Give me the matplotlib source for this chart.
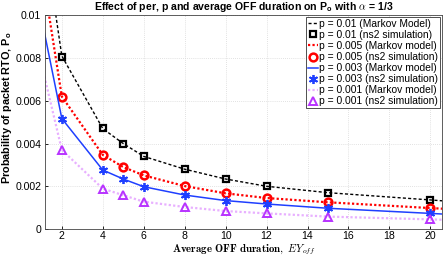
#!/usr/bin/env python3
import numpy as np
import matplotlib
matplotlib.use("Agg")
import matplotlib.pyplot as plt

# OFF durations where the ns2 simulation was run
x_sim = [2, 4, 5, 6, 8, 10, 12, 15, 20]
# model curves drawn over a slightly wider range (clipped by the axes)
x_model = [1, 2, 4, 5, 6, 8, 10, 12, 15, 20, 21]

p01_model = [0.0146, 0.0081, 0.0047, 0.0040, 0.0034, 0.0028, 0.00234, 0.0020, 0.0017, 0.00136, 0.00129]
p01_sim = [0.00807, 0.00473, 0.00398, 0.00340, 0.00280, 0.00234, 0.00200, 0.00170, 0.00136]

p005_model = [0.0123, 0.0062, 0.00347, 0.0029, 0.00251, 0.00201, 0.00167, 0.00145, 0.00125, 0.00098, 0.00093]
p005_sim = [0.0062, 0.00347, 0.0029, 0.00251, 0.00201, 0.00167, 0.00145, 0.00125, 0.00098]

p003_model = [0.0099, 0.00517, 0.00276, 0.00234, 0.00198, 0.00159, 0.00133, 0.00117, 0.00097, 0.00073, 0.00068]
p003_sim = [0.00517, 0.00276, 0.00234, 0.00198, 0.00159, 0.00133, 0.00117, 0.00097, 0.00073]

p001_model = [0.00775, 0.0037, 0.00189, 0.00158, 0.00128, 0.00103, 0.00084, 0.00073, 0.00058, 0.00045, 0.00042]
p001_sim = [0.0037, 0.00189, 0.00158, 0.00128, 0.00103, 0.00084, 0.00073, 0.00058, 0.00045]

x_ticks = [2, 4, 6, 8, 10, 12, 14, 16, 18, 20]
y_ticks = [0, 0.002, 0.004, 0.006, 0.008, 0.01]
y_ticklabels = ["0", "0.002", "0.004", "0.006", "0.008", "0.01"]

COLORS = {
    "black": "#000000",
    "red": "#ff0000",
    "blue": "#1f3fff",
    "violet": "#b833ff",
    "lilac": "#e8b0ff",
}

plt.rcParams["font.family"] = ["Liberation Sans", "DejaVu Sans"]
plt.rcParams["mathtext.fontset"] = "cm"

fig = plt.figure(figsize=(4.44, 2.57), dpi=100)
ax = fig.add_axes([0.101, 0.109, 0.8945, 0.831])

ax.plot(x_model, p01_model, color=COLORS["black"], ls=(0, (2.2, 1.6)), lw=1.0,
        label="p = 0.01 (Markov Model)")
ax.plot(x_sim, p01_sim, ls="none", marker="s", ms=4.8, mec=COLORS["black"],
        mfc="none", mew=1.6, label="p = 0.01 (ns2 simulation)")
ax.plot(x_model, p005_model, color=COLORS["red"], ls=(0, (1, 1)), lw=1.6,
        label="p = 0.005 (Markov model)")
ax.plot(x_sim, p005_sim, ls="none", marker="o", ms=5.6, mec=COLORS["red"],
        mfc="none", mew=1.8, label="p = 0.005 (ns2 simulation)")
ax.plot(x_model, p003_model, color=COLORS["blue"], ls="-", lw=1.1,
        label="p = 0.003 (Markov model)")
ax.plot(x_sim, p003_sim, ls="none", marker=(6, 2, 0), ms=6.5, mec=COLORS["blue"],
        mew=1.3, label="p = 0.003 (ns2 simulation)")
ax.plot(x_model, p001_model, color=COLORS["lilac"], ls=(0, (1, 1)), lw=1.6,
        label="p = 0.001 (Markov model)")
ax.plot(x_sim, p001_sim, ls="none", marker="^", ms=6.3, mec=COLORS["violet"],
        mfc="none", mew=1.4, label="p = 0.001 (ns2 simulation)")

ax.set_xlim(1.17, 20.57)
ax.set_ylim(0, 0.01)
ax.set_xticks(x_ticks)
ax.set_yticks(y_ticks)
ax.set_yticklabels(y_ticklabels)
ax.tick_params(labelsize=7.6, direction="in", length=2.5, width=0.6, pad=2.5)
ax.tick_params(axis="x", pad=1.5)
ax.grid(True, color="#d8d8d8", ls=(0, (1, 1.5)), lw=0.6)
for s in ax.spines.values():
    s.set_linewidth(0.6)
    s.set_color("#444444")

ax.set_title(r"Effect of per, p and average OFF duration on P$_\mathregular{o}$ with $\alpha$ = 1/3",
             fontsize=7.6, fontweight="bold", pad=4)
ax.set_ylabel(r"Probability of packet RTO, P$_\mathregular{o}$", fontsize=7.8,
              fontweight="bold")
ax.yaxis.set_label_coords(-0.078, 0.567)
ax.set_xlabel(r"$\mathbf{Average\ OFF\ duration,}\ EY_{off}$", fontsize=7.8)
ax.xaxis.set_label_coords(0.5, -0.063)

leg = ax.legend(loc="upper right", fontsize=7.4, frameon=True, fancybox=False,
                edgecolor="#333333", framealpha=1, borderpad=0.2, labelspacing=0.1,
                handlelength=1.0, handletextpad=0.15, borderaxespad=0.15)
leg.get_frame().set_linewidth(0.6)

fig.savefig("out.png", dpi=100)
